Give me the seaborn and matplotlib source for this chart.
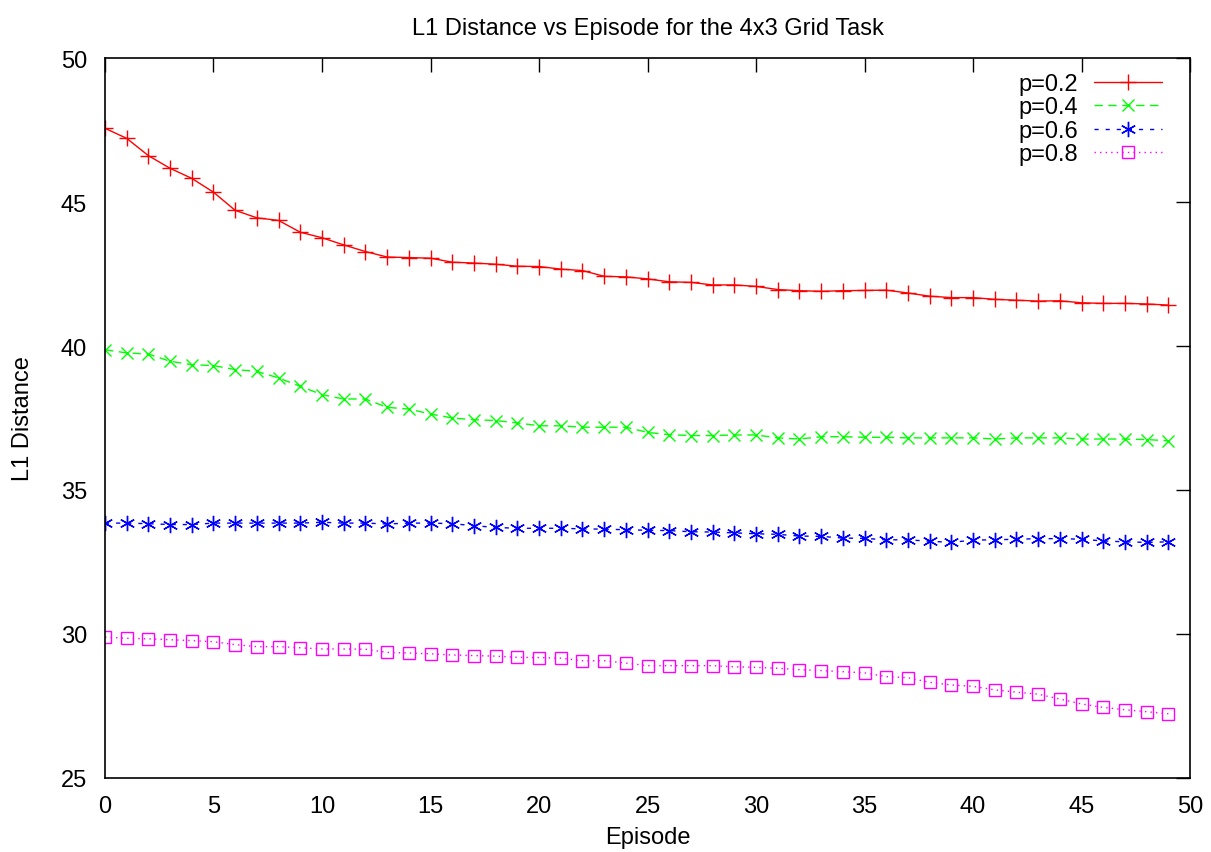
import numpy as np
import pandas as pd
import matplotlib
matplotlib.use("Agg")
import matplotlib.pyplot as plt
import seaborn as sns

episodes = list(range(50))

p02 = [47.56, 47.21, 46.61, 46.17, 45.82, 45.34, 44.71, 44.45, 44.36, 43.95,
       43.76, 43.51, 43.28, 43.09, 43.07, 43.05, 42.91, 42.88, 42.84, 42.77,
       42.76, 42.67, 42.62, 42.42, 42.40, 42.33, 42.23, 42.21, 42.12, 42.12,
       42.07, 41.96, 41.92, 41.90, 41.92, 41.93, 41.94, 41.84, 41.73, 41.68,
       41.68, 41.62, 41.59, 41.56, 41.57, 41.50, 41.48, 41.48, 41.46, 41.42]

p04 = [39.87, 39.76, 39.72, 39.47, 39.35, 39.32, 39.18, 39.12, 38.89, 38.60,
       38.31, 38.16, 38.16, 37.87, 37.81, 37.64, 37.50, 37.44, 37.41, 37.33,
       37.23, 37.23, 37.18, 37.18, 37.18, 37.00, 36.92, 36.89, 36.89, 36.91,
       36.91, 36.81, 36.77, 36.85, 36.85, 36.83, 36.83, 36.81, 36.81, 36.81,
       36.81, 36.77, 36.81, 36.81, 36.81, 36.77, 36.77, 36.77, 36.75, 36.71]

p06 = [33.85, 33.85, 33.83, 33.80, 33.80, 33.85, 33.85, 33.85, 33.85, 33.85,
       33.88, 33.85, 33.85, 33.82, 33.85, 33.85, 33.83, 33.76, 33.70, 33.67,
       33.67, 33.67, 33.65, 33.64, 33.62, 33.60, 33.59, 33.55, 33.54, 33.51,
       33.48, 33.46, 33.40, 33.39, 33.33, 33.32, 33.27, 33.27, 33.22, 33.18,
       33.26, 33.27, 33.29, 33.31, 33.31, 33.29, 33.23, 33.20, 33.18, 33.20]

p08 = [29.89, 29.85, 29.83, 29.80, 29.77, 29.73, 29.63, 29.56, 29.56, 29.52,
       29.48, 29.48, 29.47, 29.36, 29.34, 29.31, 29.27, 29.25, 29.23, 29.19,
       29.18, 29.16, 29.07, 29.07, 28.99, 28.90, 28.90, 28.90, 28.90, 28.86,
       28.84, 28.81, 28.76, 28.73, 28.69, 28.65, 28.52, 28.48, 28.32, 28.23,
       28.18, 28.06, 27.98, 27.91, 27.74, 27.57, 27.45, 27.37, 27.30, 27.23]

labels = ["p=0.2", "p=0.4", "p=0.6", "p=0.8"]
x_ticks = [0, 5, 10, 15, 20, 25, 30, 35, 40, 45, 50]
y_ticks = [25, 30, 35, 40, 45, 50]

sns.set_theme(style="white")
plt.rcParams["font.family"] = ["Liberation Sans", "DejaVu Sans"]
plt.rcParams["text.color"] = "black"
plt.rcParams["axes.labelcolor"] = "black"
plt.rcParams["xtick.color"] = "black"
plt.rcParams["ytick.color"] = "black"

FS = 17

fig = plt.figure(figsize=(12.11, 8.53), dpi=100)
ax = fig.add_axes([0.0867, 0.0868, 0.896, 0.844])

styles = [
    dict(color="#ff0000", linestyle="-", marker="+", markersize=12, mew=1.0),
    dict(color="#00ff00", linestyle=(0, (6, 4)), marker="x", markersize=9, mew=1.0),
    dict(color="#0000ff", linestyle=(0, (3, 5)), marker=(6, 2, 0), markersize=11, mew=1.0),
    dict(color="#ff00ff", linestyle=(0, (1, 3)), marker="s", markersize=9, mew=1.0),
]

for lab, vals, st in zip(labels, [p02, p04, p06, p08], styles):
    df = pd.DataFrame({"Episode": episodes, "L1": vals})
    sns.lineplot(data=df, x="Episode", y="L1", ax=ax, label=lab,
                 color=st["color"], linestyle=st["linestyle"], linewidth=1.0,
                 marker=st["marker"], markersize=st["markersize"],
                 markeredgewidth=st["mew"], markerfacecolor="none",
                 markeredgecolor=st["color"])

ax.set_xlim(0, 50)
ax.set_ylim(25, 50)
ax.set_xticks(x_ticks)
ax.set_yticks(y_ticks)
ax.tick_params(direction="in", length=10, width=1.0, top=True, right=True,
               labelsize=FS, colors="black")
ax.tick_params(axis="x", pad=12)
ax.tick_params(axis="y", pad=13)
for sp in ax.spines.values():
    sp.set_visible(True)
    sp.set_color("black")
    sp.set_linewidth(1.2)

ax.set_xlabel("Episode", fontsize=FS, labelpad=7)
ax.set_ylabel("L1 Distance", fontsize=FS, labelpad=19)
ax.set_title("L1 Distance vs Episode for the 4x3 Grid Task", fontsize=FS, pad=17)
ax.grid(False)

leg = ax.legend(loc="upper right", bbox_to_anchor=(0.9742, 0.9791),
                frameon=False, markerfirst=False,
                fontsize=FS, handlelength=2.9, labelspacing=0.06,
                borderaxespad=0.0, borderpad=0.0, handletextpad=0.65)

fig.savefig("out.png", dpi=100)
